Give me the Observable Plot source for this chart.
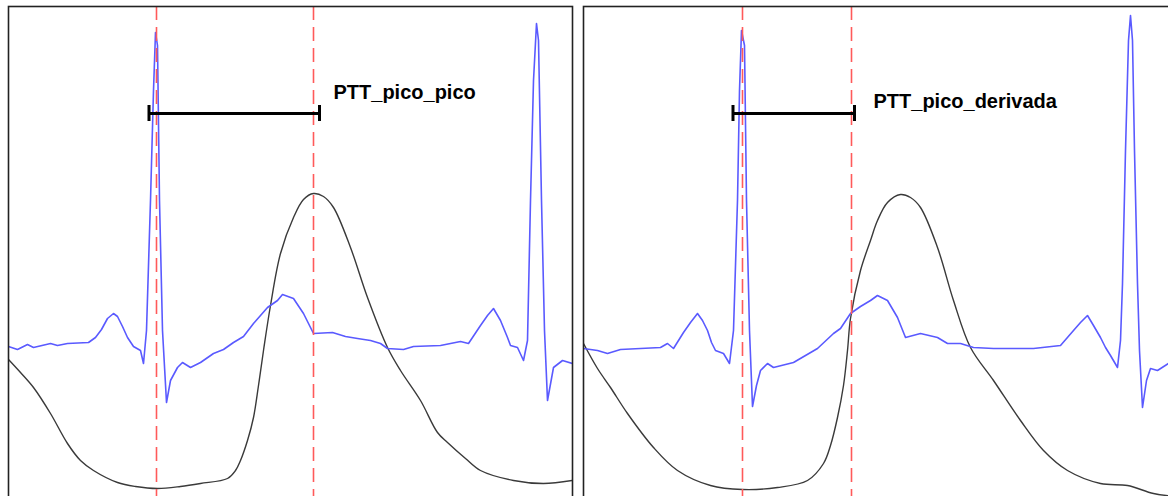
<!DOCTYPE html>
<html>
<head>
<meta charset="utf-8">
<script src="https://cdn.jsdelivr.net/npm/d3@7"></script>
<script src="https://cdn.jsdelivr.net/npm/@observablehq/plot@0.6"></script>
<style>
  html, body { margin: 0; padding: 0; background: #fff; overflow: hidden; }
  #wrap { position: relative; width: 1168px; height: 496px; overflow: hidden; background: #fff; }
  #wrap svg { position: absolute; top: 0; }
</style>
</head>
<body>
<div id="wrap"></div>
<script>
// Time in ms from the left edge of each panel; amplitude in normalized units
// (ECG isoelectric line at 0, PPG drawn on the same axis).

// ---- Panel 1: peak-to-peak PTT ----
const ecgPeakPeak = [
  [0,0.010],[18,-0.005],[38,0.020],[50,0.005],[84,0.025],[98,0.015],[118,0.025],[160,0.030],
  [174,0.055],[186,0.095],[198,0.150],[210,0.175],[218,0.160],[228,0.110],[238,0.055],
  [250,0.010],[264,-0.010],[270,-0.075],[276,0.090],
  [284,0.740],[290,1.290],[294,1.580],[298,1.515],[302,0.740],[308,0.090],[316,-0.270],
  [324,-0.160],[338,-0.095],[348,-0.070],[364,-0.095],[384,-0.070],[410,-0.025],[430,-0.005],
  [450,0.030],[470,0.060],[490,0.125],[518,0.205],[538,0.240],[548,0.270],[570,0.250],
  [590,0.175],[610,0.075],[648,0.080],[674,0.060],[698,0.050],[724,0.040],[744,0.025],
  [758,0.000],[790,-0.005],[810,0.010],[864,0.015],[904,0.035],[920,0.025],[944,0.115],
  [958,0.165],[970,0.200],[984,0.140],[998,0.055],[1004,0.015],[1018,0.005],[1030,-0.060],
  [1038,0.040],[1044,0.740],
  [1050,1.340],[1056,1.625],[1060,1.540],[1066,0.740],[1072,0.090],[1078,-0.260],[1090,-0.095],
  [1108,-0.060],[1128,-0.075]
];
const ppgPeakPeak = [
  [0,-0.055],[24,-0.120],[50,-0.195],[84,-0.325],[118,-0.475],[144,-0.560],[170,-0.610],
  [218,-0.670],[254,-0.690],[298,-0.700],[344,-0.690],[384,-0.675],[438,-0.650],[454,-0.610],
  [464,-0.560],[478,-0.460],[490,-0.345],[500,-0.185],[510,-0.010],[524,0.215],[544,0.475],
  [570,0.655],[590,0.745],[610,0.775],[630,0.760],[650,0.705],[684,0.505],[718,0.255],
  [758,0.005],[784,-0.110],[824,-0.260],[858,-0.420],[878,-0.470],[914,-0.550],[944,-0.610],
  [1010,-0.660],[1070,-0.675],[1128,-0.660]
];
const markersPeakPeak = [296, 610];          // R peak, PPG systolic peak
const pttPeakPeak = { from: 281, to: 622, level: 1.175 };
const labelPeakPeak = { text: "PTT_pico_pico", t: 650, v: 1.25 };

// ---- Panel 2: peak-to-derivative PTT ----
const ecgPeakDeriv = [
  [0,0.000],[28,-0.010],[48,-0.025],[74,-0.005],[114,0.000],[154,0.005],[168,0.025],
  [180,0.000],[200,0.080],[214,0.130],[228,0.175],[238,0.140],[248,0.090],[256,0.030],
  [264,-0.010],[280,-0.025],[292,-0.075],
  [300,0.090],[308,0.740],[312,1.290],[316,1.590],[322,1.515],[326,0.740],[332,0.090],
  [338,-0.290],[346,-0.185],[354,-0.110],[368,-0.075],[380,-0.095],[420,-0.070],[468,0.000],
  [500,0.075],[514,0.100],[534,0.175],[554,0.210],[574,0.240],[588,0.265],[608,0.240],
  [628,0.155],[644,0.055],[674,0.075],[708,0.055],[728,0.025],[754,0.025],[780,0.005],
  [820,0.000],[900,0.000],[954,0.015],[980,0.090],[994,0.130],[1008,0.165],[1020,0.115],
  [1034,0.055],[1044,0.005],[1054,-0.035],
  [1068,-0.095],[1074,0.040],[1078,0.325],[1084,0.990],[1090,1.540],[1094,1.665],[1098,1.540],
  [1102,0.990],[1108,0.325],[1112,-0.010],[1118,-0.295],[1126,-0.160],[1134,-0.100],
  [1148,-0.110],[1170,-0.075],[1184,-0.060]
];
const ppgPeakDeriv = [
  [0,0.025],[28,-0.100],[54,-0.195],[88,-0.325],[140,-0.495],[188,-0.610],[254,-0.685],
  [318,-0.705],[388,-0.695],[448,-0.660],[480,-0.575],[494,-0.485],[508,-0.345],[520,-0.185],
  [528,-0.010],[534,0.150],[554,0.390],[574,0.540],[588,0.640],[608,0.730],[634,0.770],
  [654,0.755],[674,0.705],[708,0.505],[740,0.240],[774,0.005],[820,-0.160],[874,-0.360],
  [920,-0.510],[968,-0.610],[1034,-0.675],[1088,-0.685],[1140,-0.725],[1184,-0.740]
];
const markersPeakDeriv = [318, 536];         // R peak, max PPG slope
const pttPeakDeriv = { from: 299, to: 542, level: 1.175 };
const labelPeakDeriv = { text: "PTT_pico_derivada", t: 580, v: 1.205 };

const amplitudeDomain = [-0.8, 1.71];
const capHalf = 0.04;

function drawPanel(cfg) {
  const chart = Plot.plot({
    width: cfg.width,
    height: 508,
    marginLeft: 8,
    marginTop: 6,
    marginRight: 2,
    marginBottom: 0,
    x: { domain: cfg.span, axis: null },
    y: { domain: amplitudeDomain, axis: null },
    marks: [
      Plot.line(cfg.ppg, { x: d => d[0], y: d => d[1], stroke: "#3a3a3a", strokeWidth: 1.4, curve: "catmull-rom", clip: true }),
      Plot.line(cfg.ecg, { x: d => d[0], y: d => d[1], stroke: "#5a5aff", strokeWidth: 1.6, clip: true }),
      Plot.ruleX(cfg.markers, { stroke: "#ff5a5a", strokeWidth: 1.6, strokeDasharray: "14,7" }),
      Plot.ruleY([cfg.ptt], { x1: d => d.from, x2: d => d.to, y: d => d.level, stroke: "#000", strokeWidth: 3 }),
      Plot.ruleX([cfg.ptt.from, cfg.ptt.to], { x: d => d, y1: cfg.ptt.level - capHalf, y2: cfg.ptt.level + capHalf, stroke: "#000", strokeWidth: 3 }),
      Plot.text([cfg.label], {
        x: d => d.t, y: d => d.v, text: d => d.text,
        textAnchor: "start", lineAnchor: "bottom",
        fontSize: 20, fontWeight: "bold", fontFamily: "Liberation Sans, Arial, sans-serif", fill: "#000"
      }),
      Plot.frame({ stroke: "#222", strokeWidth: 1.6 })
    ]
  });
  chart.style.left = cfg.left + "px";
  document.getElementById("wrap").appendChild(chart);
}

drawPanel({ left: 0, width: 574, span: [0, 1128], ecg: ecgPeakPeak, ppg: ppgPeakPeak,
            markers: markersPeakPeak, ptt: pttPeakPeak, label: labelPeakPeak });
drawPanel({ left: 575, width: 602, span: [0, 1184], ecg: ecgPeakDeriv, ppg: ppgPeakDeriv,
            markers: markersPeakDeriv, ptt: pttPeakDeriv, label: labelPeakDeriv });
</script>
</body>
</html>
